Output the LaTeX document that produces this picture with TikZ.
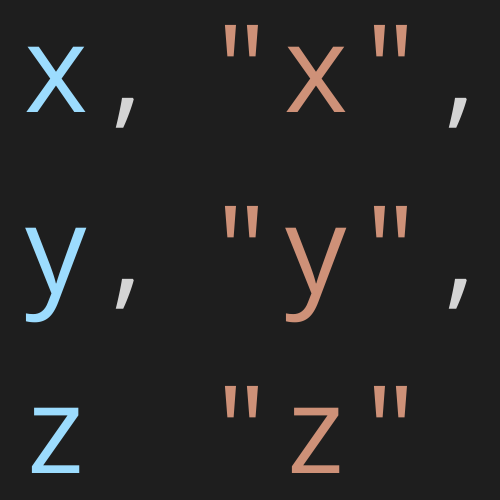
\documentclass[tikz,border=0pt]{standalone}
\usepackage{fontspec}
\newfontfamily\codefont{Open Sans}
\definecolor{bgc}{HTML}{1E1E1E}
\definecolor{varc}{HTML}{9CDCFE}
\definecolor{strc}{HTML}{CE9178}
\definecolor{punc}{HTML}{D4D4D4}
\tikzset{
  glyph/.style={inner sep=0pt, outer sep=0pt, anchor=base, font=\codefont\fontsize{122}{122}\selectfont},
  var/.style={glyph, text=varc},
  str/.style={glyph, text=strc},
  pun/.style={glyph, text=punc}
}
\begin{document}
\begin{tikzpicture}[x=1pt,y=-1pt]
\fill[bgc] (0,0) rectangle (500,500);
\useasboundingbox (0,0) rectangle (500,500);
% line 1
\node[var] (x1) at (56,113) {x};
\node[pun] (c1) at (127,113) {,};
\node[str] (q1) at (242,113) {"};
\node[str] (x2) at (316,113) {x};
\node[str] (q2) at (391,113) {"};
\node[pun] (c2) at (460,113) {,};
% line 2
\node[var] (y1) at (56,293) {y};
\node[pun] (c3) at (127,293) {,};
\node[str] (q3) at (242,293) {"};
\node[str] (y2) at (316,293) {y};
\node[str] (q4) at (391,293) {"};
\node[pun] (c4) at (460,293) {,};
% line 3
\node[var] (z1) at (56,473) {z};
\node[str] (q5) at (242,473) {"};
\node[str] (z2) at (316,473) {z};
\node[str] (q6) at (391,473) {"};
\end{tikzpicture}
\end{document}
